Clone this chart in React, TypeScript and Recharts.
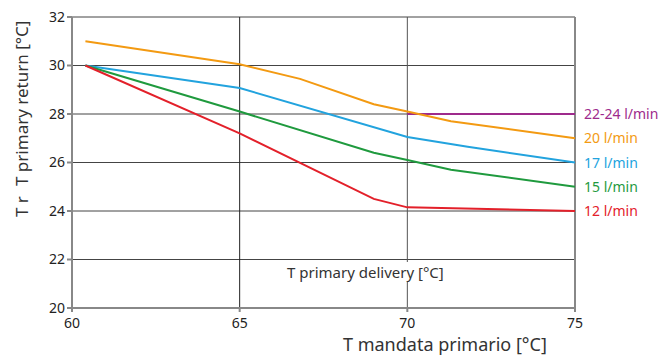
import { LineChart, Line, XAxis, YAxis, CartesianGrid, ReferenceLine, Label } from 'recharts'

const xTicks = [60, 65, 70, 75]
const yTicks = [20, 22, 24, 26, 28, 30, 32]

const flow2224 = [
  { x: 70, y: 28 },
  { x: 75, y: 28 },
]
const flow20 = [
  { x: 60.4, y: 31.0 },
  { x: 65, y: 30.05 },
  { x: 66.8, y: 29.45 },
  { x: 69, y: 28.4 },
  { x: 70, y: 28.1 },
  { x: 71.3, y: 27.7 },
  { x: 75, y: 27.0 },
]
const flow17 = [
  { x: 60.4, y: 30 },
  { x: 65, y: 29.07 },
  { x: 70, y: 27.05 },
  { x: 71.8, y: 26.65 },
  { x: 75, y: 26.0 },
]
const flow15 = [
  { x: 60.4, y: 30 },
  { x: 65, y: 28.1 },
  { x: 69, y: 26.4 },
  { x: 70, y: 26.1 },
  { x: 71.3, y: 25.7 },
  { x: 75, y: 25.0 },
]
const flow12 = [
  { x: 60.4, y: 30 },
  { x: 65, y: 27.2 },
  { x: 69, y: 24.5 },
  { x: 70, y: 24.15 },
  { x: 75, y: 24.0 },
]

const series = [
  { name: '22-24 l/min', data: flow2224, color: '#9e2a8c' },
  { name: '20 l/min', data: flow20, color: '#f39a12' },
  { name: '17 l/min', data: flow17, color: '#22a3de' },
  { name: '15 l/min', data: flow15, color: '#1f9a3e' },
  { name: '12 l/min', data: flow12, color: '#e3202a' },
]

const FONT = '"Noto Sans", sans-serif'

function endLabel(name: string, color: string, last: number) {
  return (props: any) => {
    if (props.index !== last) return <g />
    return (
      <text x={props.x + 9} y={props.y + 5} fill={color} fontSize={14} fontFamily={FONT}>
        {name}
      </text>
    )
  }
}

function YTitle() {
  return (
    <g fontFamily={FONT} fontSize={17} fill="#333">
      <text transform="translate(28,217) rotate(-90)">T r</text>
      <text transform="translate(28,186) rotate(-90)">T primary return [°C]</text>
    </g>
  )
}

export default function App() {
  return (
    <div style={{ position: 'absolute', left: 0, top: 0, width: 661, height: 356, background: '#fff' }}>
      <LineChart width={661} height={356} margin={{ top: 17, right: 86, bottom: 18, left: 32 }}>
        <CartesianGrid vertical={false} stroke="#444" strokeWidth={1} />
        <XAxis
          type="number"
          dataKey="x"
          domain={[60, 75]}
          ticks={xTicks}
          allowDuplicatedCategory={false}
          stroke="#888"
          strokeWidth={2}
          tickSize={4}
          tickMargin={6}
          height={30}
          tick={{ fill: '#222', fontSize: 14, fontFamily: FONT }}
        />
        <YAxis
          type="number"
          domain={[20, 32]}
          ticks={yTicks}
          stroke="#888"
          strokeWidth={2}
          tickSize={5}
          width={40}
          tick={{ fill: '#222', fontSize: 14, fontFamily: FONT }}
        >
          <Label content={<YTitle />} />
        </YAxis>
        <ReferenceLine x={65} stroke="#222" strokeWidth={1} />
        <ReferenceLine x={70} stroke="#555" strokeWidth={1} />
        <ReferenceLine x={75} stroke="#888" strokeWidth={2} />
        {series.map((s) => (
          <Line
            key={s.name}
            data={s.data}
            dataKey="y"
            type="linear"
            stroke={s.color}
            strokeWidth={2}
            dot={false}
            isAnimationActive={false}
            label={endLabel(s.name, s.color, s.data.length - 1)}
          />
        ))}
      </LineChart>
      <div
        style={{
          position: 'absolute',
          left: 285,
          top: 262,
          background: '#fff',
          padding: '0 2px',
          fontFamily: FONT,
          fontSize: 15,
          color: '#333',
          lineHeight: '20px',
          whiteSpace: 'nowrap',
        }}
      >
        T primary delivery [°C]
      </div>
      <div
        style={{
          position: 'absolute',
          left: 343,
          top: 333,
          fontFamily: FONT,
          fontSize: 18,
          color: '#333',
          lineHeight: '22px',
          whiteSpace: 'nowrap',
        }}
      >
        T mandata primario [°C]
      </div>
    </div>
  )
}
